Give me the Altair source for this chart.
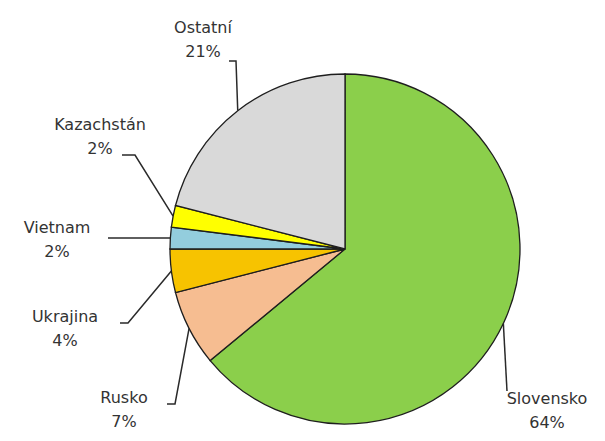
import math
import altair as alt
import pandas as pd

# ---- data ----
countries = ["Slovensko", "Rusko", "Ukrajina", "Vietnam", "Kazachstán", "Ostatní"]
shares = [64, 7, 4, 2, 2, 21]
colors = ["#8BCF4B", "#F6BD91", "#F7C300", "#93CDDD", "#FFFF00", "#D9D9D9"]

# ---- layout (view pixel coords) ----
CX, CY, R = 337, 241, 175
label_cx = [539, 116, 57, 49, 92, 195]
label_cy = [391, 390, 309, 220, 117, 20]
LINE_GAP = 24
# leader line start + optional elbow (before reaching the slice edge)
leader_pts = [
    [(499, 383)],
    [(159, 396), (167, 396)],
    [(112, 315), (120, 315)],
    [(100, 230)],
    [(114, 147), (127, 147)],
    [(221, 53), (228, 53)],
]

total = sum(shares)
pie_df = pd.DataFrame({"country": countries, "share": shares, "ord": list(range(len(countries)))})

# leader lines end at slice mid-angle on the rim
line_rows = []
cum = 0
for i, (c, s) in enumerate(zip(countries, shares)):
    mid = (cum + s / 2) / total * 2 * math.pi
    cum += s
    ex = CX + R * math.sin(mid)
    ey = CY - R * math.cos(mid)
    pts = leader_pts[i] + [(ex, ey)]
    for k, (px, py) in enumerate(pts):
        line_rows.append({"country": c, "k": k, "px": px, "py": py})
line_df = pd.DataFrame(line_rows)

text_rows = []
for i, (c, s) in enumerate(zip(countries, shares)):
    text_rows.append({"t": c, "tx": label_cx[i], "ty": label_cy[i]})
    text_rows.append({"t": f"{s}%", "tx": label_cx[i], "ty": label_cy[i] + LINE_GAP})
text_df = pd.DataFrame(text_rows)

pie = alt.Chart(pie_df).mark_arc(
    outerRadius=R, stroke="#1e1e1e", strokeWidth=1.3
).encode(
    theta=alt.Theta("share:Q", stack=True),
    order=alt.Order("ord:Q"),
    color=alt.Color("country:N", scale=alt.Scale(domain=countries, range=colors), legend=None),
    x=alt.value(CX),
    y=alt.value(CY),
)

lines = alt.Chart(line_df).mark_line(color="#2a2a2a", strokeWidth=1.5).encode(
    x=alt.X("px:Q", scale=None, axis=None),
    y=alt.Y("py:Q", scale=None, axis=None),
    detail="country:N",
    order="k:Q",
)

texts = alt.Chart(text_df).mark_text(
    font="DejaVu Sans", fontSize=16, color="#333333", align="center", baseline="middle"
).encode(
    x=alt.X("tx:Q", scale=None, axis=None),
    y=alt.Y("ty:Q", scale=None, axis=None),
    text="t:N",
)

chart = alt.layer(pie, lines, texts).properties(
    width=589, height=425, padding=0, autosize=alt.AutoSizeParams(type="none")
).configure_view(stroke=None)

chart.save("out.html", embed_options={"renderer": "svg", "actions": False})
